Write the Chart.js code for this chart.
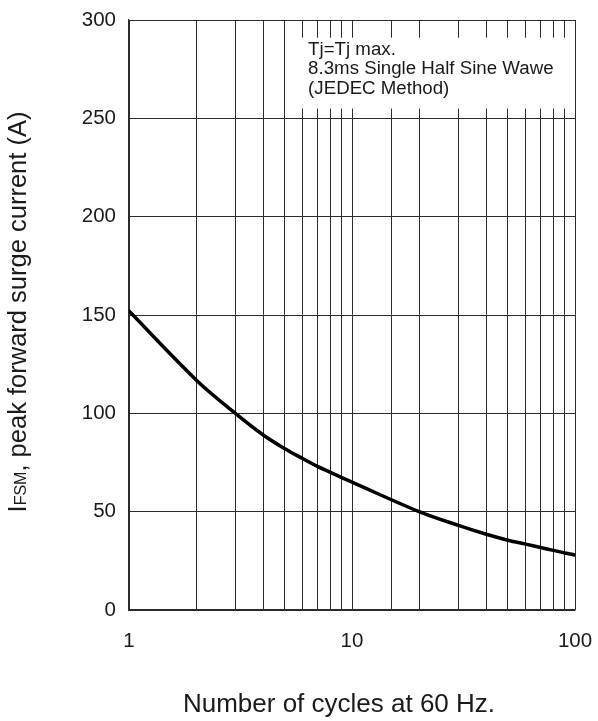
<!DOCTYPE html>
<html>
<head>
<meta charset="utf-8">
<script src="https://cdn.jsdelivr.net/npm/chart.js@4/dist/chart.umd.min.js"></script>
<style>
  html, body { margin: 0; padding: 0; background: #fff; overflow: hidden; }
  #wrap { width: 598px; height: 721px; position: relative; }
</style>
</head>
<body>
<div id="wrap"><canvas id="surgeChart"></canvas></div>
<script>
// values at the grid lines
var cycles = [1, 2, 3, 4, 5, 6, 7, 8, 9, 10, 20, 30, 40, 50, 60, 70, 80, 90, 100];
var surgeCurrent = [152, 117, 100, 89, 82, 77, 73, 70, 67.3, 65, 50, 43, 38.5, 35.5, 33.5, 31.8, 30.3, 29, 28];
var xTickLabels = [1, 10, 100];
var yTicks = [0, 50, 100, 150, 200, 250, 300];
var noteLines = ['Tj=Tj max.', '8.3ms Single Half Sine Wawe', '(JEDEC Method)'];
var xTitle = 'Number of cycles at 60 Hz.';

var FONT = "'Liberation Sans', Arial, Helvetica, sans-serif";
var gridColor = '#2b2b2b';
var textColor = '#1a1a1a';

// white note box that breaks the grid in the upper right
var notePlugin = {
  id: 'note',
  afterDatasetsDraw: function(chart) {
    var ctx = chart.ctx;
    var xs = chart.scales.x, ys = chart.scales.y;
    var left = xs.getPixelForValue(5.5), right = xs.getPixelForValue(95);
    var top = ys.getPixelForValue(291), bottom = ys.getPixelForValue(255);
    ctx.save();
    ctx.fillStyle = '#fff';
    ctx.fillRect(left, top, right - left, bottom - top);
    ctx.fillStyle = textColor;
    ctx.font = '18.7px ' + FONT;
    ctx.textBaseline = 'alphabetic';
    ctx.textAlign = 'left';
    noteLines.forEach(function(line, i) {
      ctx.fillText(line, left + 14, top + 17 + i * 19.5);
    });
    ctx.restore();
  }
};

// axis titles; the y one has a small "FSM" subscript
var titlesPlugin = {
  id: 'titles',
  afterDraw: function(chart) {
    var ctx = chart.ctx;
    var area = chart.chartArea;
    ctx.save();
    ctx.fillStyle = textColor;
    ctx.textBaseline = 'alphabetic';

    ctx.font = '26px ' + FONT;
    ctx.textAlign = 'center';
    ctx.fillText(xTitle, (area.left + area.right) / 2 - 13, 712);

    var parts = [
      { t: 'I', size: 25.5 },
      { t: 'FSM', size: 16 },
      { t: ', peak forward surge current (A)', size: 25.5 }
    ];
    var total = 0;
    parts.forEach(function(p) {
      ctx.font = p.size + 'px ' + FONT;
      p.w = ctx.measureText(p.t).width;
      total += p.w;
    });
    ctx.translate(26, (area.top + area.bottom) / 2 - 3);
    ctx.rotate(-Math.PI / 2);
    ctx.textAlign = 'left';
    var x = -total / 2;
    parts.forEach(function(p) {
      ctx.font = p.size + 'px ' + FONT;
      ctx.fillText(p.t, x, 0);
      x += p.w;
    });
    ctx.restore();
  }
};

function noScalePadding(scale) {
  scale.paddingLeft = 0;
  scale.paddingRight = 0;
  scale.paddingTop = 0;
  scale.paddingBottom = 0;
}

new Chart(document.getElementById('surgeChart'), {
  type: 'line',
  data: {
    datasets: [{
      data: cycles.map(function(c, i) { return { x: c, y: surgeCurrent[i] }; }),
      borderColor: '#000',
      borderWidth: 3.5,
      borderCapStyle: 'round',
      borderJoinStyle: 'round',
      pointRadius: 0,
      fill: false,
      tension: 0.35
    }]
  },
  options: {
    responsive: true,
    maintainAspectRatio: false,
    animation: false,
    layout: { padding: { top: 20, right: 23, left: 0, bottom: 0 } },
    plugins: {
      legend: { display: false },
      tooltip: { enabled: false }
    },
    scales: {
      x: {
        type: 'logarithmic',
        min: 1,
        max: 100,
        grid: { color: gridColor, lineWidth: 1, drawTicks: false },
        border: { color: gridColor, width: 1.2 },
        ticks: {
          autoSkip: false,
          maxRotation: 0,
          padding: 19,
          color: textColor,
          font: { family: FONT, size: 20.5 },
          callback: function(v) {
            return xTickLabels.indexOf(v) >= 0 ? String(v) : '';
          }
        },
        afterFit: function(scale) {
          scale.height = 111;
          noScalePadding(scale);
        }
      },
      y: {
        min: 0,
        max: 300,
        afterBuildTicks: function(scale) {
          scale.ticks = yTicks.map(function(v) { return { value: v }; });
        },
        grid: { color: gridColor, lineWidth: 1, drawTicks: false },
        border: { color: gridColor, width: 1.2 },
        ticks: {
          padding: 13,
          color: textColor,
          font: { family: FONT, size: 20.5 }
        },
        afterFit: function(scale) {
          scale.width = 129;
          noScalePadding(scale);
        }
      }
    }
  },
  plugins: [notePlugin, titlesPlugin]
});
</script>
</body>
</html>
